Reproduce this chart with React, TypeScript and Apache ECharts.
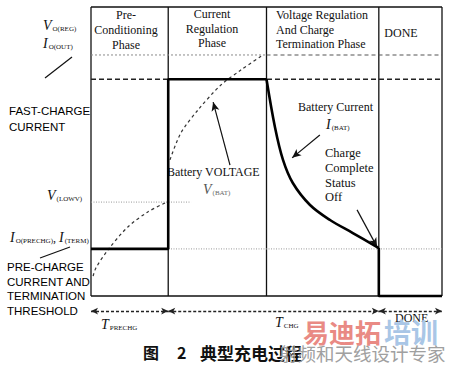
import React, { useEffect, useRef } from "react";
import * as echarts from "echarts";

const SERIF = '"Liberation Serif", "Times New Roman", serif';
const SANS = '"Liberation Sans", Arial, sans-serif';
const CJK = '"Noto Sans CJK SC", sans-serif';

// ---- diagram data (time in % of cycle, level in % of full scale) ----
const phaseEdges = [0, 22, 50, 82, 100];
const yTop = 100;
const yBase = 0;
const preChargeLevel = 16.3;
const lowVLevel = 32.5;
const fastChargeLevel = 75;
const regVoltageLevel = 83.4;
const lowVLineEnd = 28.5;
const timeRowY = -5.2;

const currentT = [0, 22, 22, 50, 52.4, 54.7, 57.5, 62.4, 68.1, 74.6, 82, 82, 100];
const currentI = [16.3, 16.3, 75, 75, 58.5, 47.1, 39.1, 31.5, 26.3, 21.8, 16.6, 0, 0];

const vPreT = [0.6, 1.4, 4.8, 10.5, 16.2, 21.1];
const vPreV = [6.9, 9.7, 15.9, 23.9, 29.1, 32.2];
const vFastT = [22.5, 25.6, 30.5, 37, 42.7, 49];
const vFastV = [47.1, 56.4, 64.4, 73, 78.2, 83.4];

const phaseTitles = [
  ["Pre-", "Conditioning", "Phase"],
  ["Current", "Regulation", "Phase"],
  ["Voltage Regulation", "And Charge", "Termination Phase"],
  ["DONE"],
];

const zip = (xs: number[], ys: number[]) => xs.map((x, i) => [x, ys[i]]);

function seg(xs: number[], ys: number[], color: string, width: number, type: any, extra: any = {}) {
  return {
    type: "line",
    data: zip(xs, ys),
    symbol: "none",
    clip: false,
    silent: true,
    lineStyle: { color, width, type },
    ...extra,
  };
}

function txt(x: number, y: number, text: string, font: string, extra: any = {}) {
  return {
    type: "text",
    x,
    y,
    silent: true,
    style: {
      text,
      font,
      fill: extra.fill || "#111",
      align: extra.align || "left",
      verticalAlign: "middle",
      rich: extra.rich,
    },
  };
}

const subRich = {
  v: { font: `italic 14px ${SERIF}`, fill: "#111", verticalAlign: "bottom" },
  s: { font: `7px ${SERIF}`, fill: "#111", verticalAlign: "bottom", padding: [0, 0, 0, 1] },
  c: { font: `12px ${SERIF}`, fill: "#111", verticalAlign: "bottom" },
};
const subRichGray = {
  v: { font: `italic 14px ${SERIF}`, fill: "#555", verticalAlign: "bottom" },
  s: { font: `7px ${SERIF}`, fill: "#666", verticalAlign: "bottom", padding: [0, 0, 0, 1] },
};

export default function App() {
  const ref = useRef<HTMLDivElement>(null);
  useEffect(() => {
    if (!ref.current) return;
    const chart = echarts.init(ref.current, null, { renderer: "svg" });

    const series: any[] = [];
    // frame
    series.push(seg([phaseEdges[0], phaseEdges[4]], [yTop, yTop], "#111", 1.3, "solid"));
    series.push(seg([phaseEdges[0], phaseEdges[4]], [yBase, yBase], "#111", 1.3, "solid"));
    phaseEdges.forEach((e) => series.push(seg([e, e], [yBase, yTop], "#111", 1.3, "solid")));
    // reference levels
    series.push(seg([0, 50], [regVoltageLevel, regVoltageLevel], "#8a8a8a", 1, [2, 2]));
    series.push(seg([50, 100], [regVoltageLevel, regVoltageLevel], "#555", 1.1, [4, 3]));
    series.push(seg([0, 100], [fastChargeLevel, fastChargeLevel], "#222", 1.3, [5, 3]));
    series.push(seg([0, lowVLineEnd], [lowVLevel, lowVLevel], "#999", 1, [1, 1.5]));
    series.push(seg([0, 100], [preChargeLevel, preChargeLevel], "#999", 1, [1, 1.5]));
    // battery voltage
    series.push(seg(vPreT, vPreV, "#333", 1.2, [3, 3], { smooth: 0.3 }));
    series.push(seg(vFastT, vFastV, "#333", 1.2, [3, 3], { smooth: 0.3 }));
    // battery current
    series.push(
      seg(currentT.slice(0, 4), currentI.slice(0, 4), "#000", 2.6, "solid", { z: 5 })
    );
    series.push(
      seg(currentT.slice(3, 11), currentI.slice(3, 11), "#000", 2.6, "solid", { z: 5, smooth: 0.35 })
    );
    series.push(
      seg(currentT.slice(10), currentI.slice(10), "#000", 2.6, "solid", { z: 5 })
    );
    // time row arrows
    series.push({
      type: "line",
      data: [],
      silent: true,
      markLine: {
        silent: true,
        animation: false,
        symbol: ["arrow", "arrow"],
        symbolSize: [5, 7],
        label: { show: false },
        lineStyle: { color: "#222", width: 1.3, type: [3, 2] },
        data: [
          [{ coord: [phaseEdges[0], timeRowY] }, { coord: [phaseEdges[1], timeRowY] }],
          [{ coord: [phaseEdges[1], timeRowY] }, { coord: [phaseEdges[3], timeRowY] }],
          [{ coord: [phaseEdges[3], timeRowY] }, { coord: [phaseEdges[4], timeRowY] }],
        ],
      },
    });
    // annotation arrows
    series.push({
      type: "line",
      data: [],
      silent: true,
      markLine: {
        silent: true,
        animation: false,
        symbol: ["none", "arrow"],
        symbolSize: [6, 9],
        label: { show: false },
        lineStyle: { color: "#111", width: 1.2, type: "solid" },
        data: [
          [{ coord: [39.6, 45.3] }, { coord: [34.8, 67.1] }],
          [{ coord: [65.2, 55.7] }, { coord: [57.3, 47.8] }],
          [{ coord: [75.8, 29.8] }, { coord: [81.5, 17.0] }],
        ],
      },
    });

    const graphics: any[] = [];
    // phase titles
    const titleX = [126, 212, 276, 401];
    const titleY = [[15, 30, 45], [14, 29, 43], [15, 30, 44], [33]];
    phaseTitles.forEach((lines, i) =>
      lines.forEach((l, j) =>
        graphics.push(
          txt(titleX[i], titleY[i][j], l, `12px ${SERIF}`, { align: i === 2 ? "left" : "center" })
        )
      )
    );
    // left labels
    graphics.push(txt(43, 25, "{v|V}{s|O(REG)}", `12px ${SERIF}`, { rich: subRich }));
    graphics.push(txt(43, 43, "{v|I}{s|O(OUT)}", `12px ${SERIF}`, { rich: subRich }));
    graphics.push({ type: "line", silent: true, shape: { x1: 45, y1: 78, x2: 72, y2: 57 }, style: { stroke: "#111", lineWidth: 1.2 } });
    graphics.push(txt(9, 111, "FAST-CHARGE", `11.5px ${SANS}`, { fill: "#000" }));
    graphics.push(txt(9, 127, "CURRENT", `11.5px ${SANS}`, { fill: "#000" }));
    graphics.push(txt(47, 195, "{v|V}{s|(LOWV)}", `12px ${SERIF}`, { rich: subRich }));
    graphics.push(txt(10, 237, "{v|I}{s|O(PRECHG)}{c|, }{v|I}{s|(TERM)}", `12px ${SERIF}`, { rich: subRich }));
    graphics.push({ type: "line", silent: true, shape: { x1: 40, y1: 258, x2: 70, y2: 247 }, style: { stroke: "#111", lineWidth: 1.2 } });
    ["PRE-CHARGE", "CURRENT AND", "TERMINATION", "THRESHOLD"].forEach((l, i) =>
      graphics.push(txt(7, 267 + i * 14.7, l, `11.5px ${SANS}`, { fill: "#000" }))
    );
    // annotations
    graphics.push(txt(167, 172, "Battery VOLTAGE", `12px ${SERIF}`));
    graphics.push(txt(203, 189, "{v|V}{s|(BAT)}", `12px ${SERIF}`, { rich: subRichGray }));
    graphics.push(txt(298, 107, "Battery Current", `12px ${SERIF}`));
    graphics.push(txt(326, 124, "{v|I}{s|(BAT)}", `12px ${SERIF}`, { rich: subRich }));
    ["Charge", "Complete", "Status", "Off"].forEach((l, i) =>
      graphics.push(txt(325, 153 + i * 14.8, l, `12.5px ${SERIF}`))
    );
    // time row labels
    graphics.push(txt(101, 324, "{v|T}{s|PRECHG}", `12px ${SERIF}`, { rich: subRich }));
    graphics.push(txt(275, 322, "{v|T}{s|CHG}", `12px ${SERIF}`, { rich: subRich }));
    graphics.push(txt(395, 318, "DONE", `12px ${SERIF}`));
    // watermark
    graphics.push(txt(303, 331, "易迪拓", `bold 26px ${CJK}`, { fill: "#e98a84" }));
    graphics.push(txt(384, 331, "培训", `bold 27px ${CJK}`, { fill: "#a9c6e6" }));
    // caption
    graphics.push(txt(143, 352, "图", `bold 16px ${CJK}`));
    graphics.push(txt(177, 352, "2", `bold 16px ${CJK}`));
    graphics.push(txt(200, 352, "典型充电过程", `bold 17px ${CJK}`));
    graphics.push(txt(279, 353, "射频和天线设计专家", `18.5px ${CJK}`, { fill: "#a0a0a0" }));

    chart.setOption({
      animation: false,
      backgroundColor: "#ffffff",
      grid: { left: 91, right: 8, top: 7, bottom: 39.3 },
      xAxis: { type: "value", min: 0, max: 100, show: false },
      yAxis: { type: "value", min: -12, max: 100, show: false },
      series,
      graphic: graphics,
    });
    return () => chart.dispose();
  }, []);
  return (
    <div
      ref={ref}
      style={{ position: "absolute", left: 0, top: 0, width: 450, height: 370 }}
    />
  );
}
